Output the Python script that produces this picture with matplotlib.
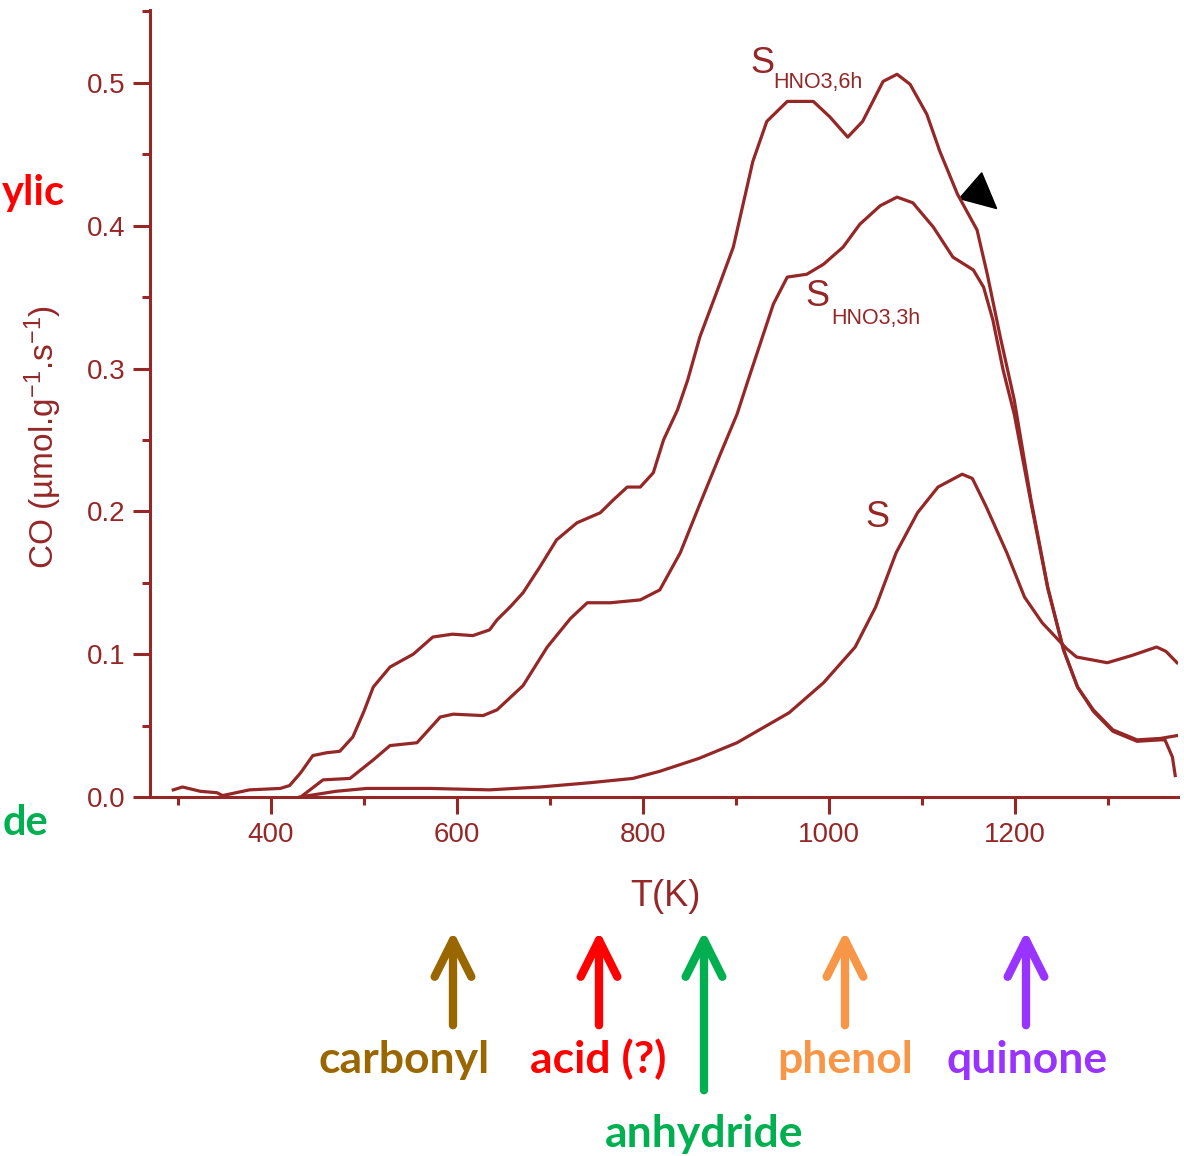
import matplotlib.pyplot as plt
from matplotlib.patches import Polygon, FancyArrowPatch
from matplotlib.ticker import MultipleLocator, FormatStrFormatter

# Dessorção de CO em TPD: carvão S e tratado com HNO3 (3h e 6h)

T_6h = [295, 305, 324, 342, 348, 377, 410, 420, 432, 445, 460, 474, 488, 500, 510,
        528, 553, 574, 595, 617, 635, 643, 657, 671, 689, 707, 729, 754, 768, 783,
        797, 811, 822, 837, 848, 861, 880, 897, 918, 933, 955, 983, 1001, 1020,
        1036, 1058, 1073, 1087, 1105, 1119, 1138, 1159, 1170, 1184, 1199, 1217,
        1235, 1252, 1267, 1284, 1305, 1331, 1356, 1374]
CO_6h = [0.005, 0.007, 0.004, 0.003, 0.001, 0.005, 0.006, 0.008, 0.017, 0.029,
         0.031, 0.032, 0.042, 0.060, 0.077, 0.091, 0.100, 0.112, 0.114, 0.113,
         0.117, 0.124, 0.133, 0.143, 0.161, 0.180, 0.192, 0.199, 0.208, 0.217,
         0.217, 0.227, 0.250, 0.271, 0.292, 0.322, 0.355, 0.385, 0.445, 0.473,
         0.487, 0.487, 0.476, 0.462, 0.473, 0.501, 0.506, 0.499, 0.478, 0.452,
         0.422, 0.397, 0.366, 0.322, 0.278, 0.208, 0.147, 0.103, 0.077, 0.061,
         0.047, 0.040, 0.041, 0.043]

T_3h = [434, 456, 485, 510, 528, 557, 582, 596, 628, 643, 671, 697, 722, 740, 765,
        797, 818, 840, 861, 883, 901, 913, 940, 955, 976, 994, 1015, 1033, 1055,
        1073, 1090, 1112, 1133, 1155, 1166, 1176, 1187, 1199, 1217, 1235, 1252,
        1267, 1284, 1305, 1331, 1356, 1361, 1369, 1372]
CO_3h = [0.001, 0.012, 0.013, 0.026, 0.036, 0.038, 0.056, 0.058, 0.057, 0.061,
         0.078, 0.105, 0.125, 0.136, 0.136, 0.138, 0.145, 0.171, 0.205, 0.240,
         0.268, 0.292, 0.345, 0.364, 0.366, 0.373, 0.385, 0.401, 0.414, 0.420,
         0.416, 0.399, 0.378, 0.369, 0.357, 0.334, 0.299, 0.268, 0.206, 0.146,
         0.103, 0.077, 0.060, 0.046, 0.039, 0.040, 0.040, 0.028, 0.015]

T_S = [431, 470, 503, 571, 635, 689, 743, 789, 818, 860, 901, 957, 994, 1028,
       1050, 1072, 1095, 1117, 1143, 1154, 1169, 1191, 1210, 1229, 1255, 1266,
       1299, 1325, 1352, 1362, 1374]
CO_S = [0.000, 0.004, 0.006, 0.006, 0.005, 0.007, 0.010, 0.013, 0.018, 0.027,
        0.038, 0.059, 0.080, 0.105, 0.133, 0.171, 0.199, 0.217, 0.226, 0.223,
        0.203, 0.171, 0.140, 0.122, 0.104, 0.098, 0.094, 0.099, 0.105, 0.102,
        0.094]

# grupos funcionais e sua cor
grupos = ['carbonyl', 'acid (?)', 'anhydride', 'phenol', 'quinone']
cores_grupos = ['#996600', '#ff0000', '#00b050', '#f79646', '#9933ff']

vinho = '#952727'
W, H = 1184, 1156

plt.rcParams['font.family'] = ['Liberation Sans', 'DejaVu Sans']
plt.rcParams['mathtext.fontset'] = 'custom'
plt.rcParams['mathtext.rm'] = 'Liberation Sans'
plt.rcParams['mathtext.it'] = 'Liberation Sans'

fig = plt.figure(figsize=(W / 100, H / 100), dpi=100)
ax = fig.add_axes([150 / W, 1 - 797 / H, 1028 / W, 787 / H])

for T, co in [(T_6h, CO_6h), (T_3h, CO_3h), (T_S, CO_S)]:
    ax.plot(T, co, color=vinho, lw=2.3, solid_joinstyle='round')

ax.set_xlim(270, 1375)
ax.set_ylim(0, 0.551)
ax.spines['top'].set_visible(False)
ax.spines['right'].set_visible(False)
for s in ['left', 'bottom']:
    ax.spines[s].set_color(vinho)
    ax.spines[s].set_linewidth(2.2)

ax.xaxis.set_major_locator(MultipleLocator(200))
ax.xaxis.set_minor_locator(MultipleLocator(100))
ax.yaxis.set_major_locator(MultipleLocator(0.1))
ax.yaxis.set_minor_locator(MultipleLocator(0.05))
ax.yaxis.set_major_formatter(FormatStrFormatter('%.1f'))
ax.tick_params(which='major', direction='out', length=12, width=2.2,
               color=vinho, labelcolor=vinho, labelsize=20, pad=6)
ax.tick_params(which='minor', direction='out', length=6, width=2.2, color=vinho)

ax.set_xlabel('T(K)', fontsize=26, color=vinho, va='center')
ax.xaxis.set_label_coords((665 - 150) / 1028, -(897 - 797) / 787)
ax.set_ylabel('CO (µmol.g$^{-1}$.s$^{-1}$)', fontsize=24, color=vinho, va='center')
ax.yaxis.set_label_coords(-(150 - 43) / 1028, (797 - 437) / 787)

# rótulos das curvas
ax.text(915, 0.507, 'S', fontsize=26, color=vinho)
ax.text(940, 0.4965, 'HNO3,6h', fontsize=15.5, color=vinho)
ax.text(975, 0.344, 'S', fontsize=26, color=vinho)
ax.text(1002, 0.331, 'HNO3,3h', fontsize=15.5, color=vinho)
ax.text(1039, 0.189, 'S', fontsize=26, color=vinho)

# seta preta
ax.add_patch(Polygon([(1140, 0.419), (1164, 0.437), (1180, 0.412)],
                     closed=True, color='black', clip_on=False))

def px(x, y):
    return (x / W, 1 - y / H)

# pedaços de texto na borda esquerda
fig.text(*px(65, 205), 'ylic', fontsize=30, fontweight='bold',
         color='#ff0000', ha='right', va='baseline', family='Lato')
fig.text(*px(48, 835), 'de', fontsize=30, fontweight='bold',
         color='#00b050', ha='right', va='baseline', family='Lato')

# setas dos grupos funcionais
seta_x = [453, 599, 704, 845, 1026]
seta_base = [1028, 1028, 1093, 1028, 1028]
texto_x = [404, 598, 704, 845, 1027]
texto_y = [1073, 1073, 1147, 1073, 1073]
for g, c, sx, sb, tx, ty in zip(grupos, cores_grupos, seta_x, seta_base, texto_x, texto_y):
    fig.add_artist(FancyArrowPatch(
        px(sx, sb), px(sx, 928), transform=fig.transFigure,
        arrowstyle='->,head_length=2.2,head_width=1.1', mutation_scale=12,
        lw=6, color=c, capstyle='round', joinstyle='round'))
    fig.text(*px(tx, ty), g, fontsize=32, fontweight='bold', color=c,
             ha='center', va='baseline', family='Lato')

fig.savefig('out.png', dpi=100)
